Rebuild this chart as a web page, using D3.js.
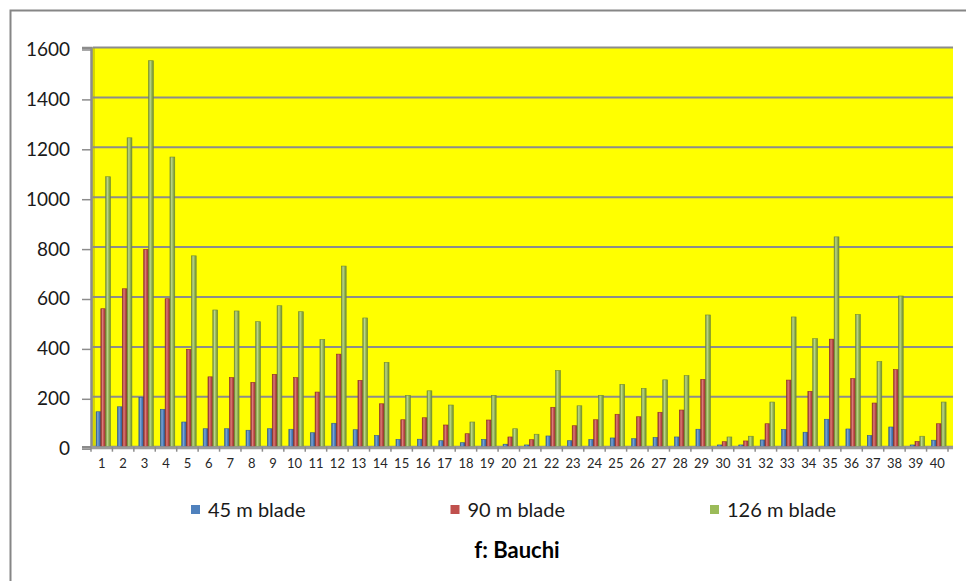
<!DOCTYPE html>
<html>
<head>
<meta charset="utf-8">
<script src="https://cdn.jsdelivr.net/npm/d3@7"></script>
<style>
  html, body { margin: 0; padding: 0; background: #fff; }
  svg { display: block; font-family: Lato, "Open Sans", sans-serif; }
</style>
</head>
<body>
<svg id="chart" width="966" height="581"></svg>
<script>
const categories = ["1","2","3","4","5","6","7","8","9","10","11","12","13","14","15","16","17","18","19","20",
  "21","22","23","24","25","26","27","28","29","30","31","32","33","34","35","36","37","38","39","40"];
const seriesNames = ["45 m blade", "90 m blade", "126 m blade"];
const blade45 = [140,160,198,150,99,72,72,66,72,70,56,94,68,45,29,30,24,16,29,10,
  7,43,24,29,35,32,37,39,70,7,7,27,69,58,110,71,45,79,7,26];
const blade90 = [553,633,791,593,390,280,277,258,290,277,219,371,266,172,108,116,87,52,107,39,
  28,158,84,108,130,120,138,147,270,20,23,92,267,222,431,273,175,309,21,92];
const blade126 = [1082,1238,1547,1161,765,548,544,501,565,541,430,724,516,338,206,224,167,99,206,72,
  50,305,164,206,250,234,268,285,528,39,42,179,520,433,841,530,341,604,42,179];
const yTicks = [0, 200, 400, 600, 800, 1000, 1200, 1400, 1600];
const chartTitle = "f: Bauchi";

const colors = ["#4f81bd", "#c0504d", "#9bbb59"];
const darks = ["#2c5a8f", "#8c2d2a", "#6f8a35"];
const lights = ["#7fa6d6", "#dc7e7b", "#bcd68a"];

const svg = d3.select("#chart");
const PLOT = {left: 91, right: 948, top: 47.5, bottom: 446.7, wallRight: 953};

const x0 = d3.scaleBand().domain(categories).range([PLOT.left, PLOT.right]);
const bw = x0.bandwidth();
const x1 = d3.scaleBand().domain(seriesNames).range([bw * 0.235, bw * 0.91]);
const y = d3.scaleLinear().domain([0, 1600]).range([PLOT.bottom, PLOT.top]);

const rows = categories.map((c, i) => ({cat: c, values: [blade45[i], blade90[i], blade126[i]]}));

// outer chart border (runs off the picture on right and bottom)
svg.append("rect")
  .attr("x", 10.5).attr("y", 10.5)
  .attr("width", 1000).attr("height", 1000)
  .attr("fill", "none")
  .attr("stroke", "#868686")
  .attr("stroke-width", 2);

// gradients for the shaded bars
const defs = svg.append("defs");
colors.forEach((c, i) => {
  const g = defs.append("linearGradient")
    .attr("id", `grad${i}`)
    .attr("x1", "0").attr("x2", "1").attr("y1", "0").attr("y2", "0");
  g.append("stop").attr("offset", "0%").attr("stop-color", darks[i]);
  g.append("stop").attr("offset", "35%").attr("stop-color", lights[i]);
  g.append("stop").attr("offset", "60%").attr("stop-color", c);
  g.append("stop").attr("offset", "100%").attr("stop-color", darks[i]);
});

// back wall
svg.append("rect")
  .attr("x", PLOT.left + 2).attr("y", PLOT.top)
  .attr("width", PLOT.wallRight - PLOT.left - 2)
  .attr("height", PLOT.bottom - PLOT.top)
  .attr("fill", "#ffff00");

// left wall strip
svg.append("rect")
  .attr("x", PLOT.left).attr("y", PLOT.top)
  .attr("width", 4).attr("height", PLOT.bottom - PLOT.top)
  .attr("fill", "#d6d600");

// gridlines
svg.append("g")
  .selectAll("line")
  .data(yTicks)
  .enter()
  .append("line")
  .attr("x1", PLOT.left + 2)
  .attr("x2", PLOT.wallRight)
  .attr("y1", d => y(d))
  .attr("y2", d => y(d))
  .attr("stroke", "#8c8c8c")
  .attr("stroke-width", 2);

// left axis
const yAxis = svg.append("g")
  .attr("transform", `translate(${PLOT.left},0)`)
  .call(d3.axisLeft(y).tickValues(yTicks).tickFormat(d3.format("d")).tickSize(9).tickPadding(12));
yAxis.select(".domain").attr("stroke", "#8c8c8c").attr("stroke-width", 2.5);
yAxis.selectAll(".tick line").attr("stroke", "#8c8c8c").attr("stroke-width", 1.5)
  .attr("transform", "translate(0,2)");
yAxis.selectAll(".tick text")
  .attr("font-size", 19)
  .attr("fill", "#1a1a1a")
  .attr("font-family", "Lato, sans-serif")
  .attr("dy", "0.42em");

// bars
const groups = svg.append("g")
  .selectAll("g")
  .data(rows)
  .enter()
  .append("g")
  .attr("transform", d => `translate(${x0(d.cat)},0)`);

groups.selectAll("rect")
  .data(d => d.values.map((v, i) => ({series: seriesNames[i], value: v, i: i})))
  .enter()
  .append("rect")
  .attr("x", d => x1(d.series))
  .attr("y", d => y(d.value))
  .attr("width", x1.bandwidth())
  .attr("height", d => y(0) - y(d.value))
  .attr("fill", d => `url(#grad${d.i})`)
  .attr("stroke", d => darks[d.i])
  .attr("stroke-width", 0.6);

// floor / bottom axis
const xAxis = svg.append("g")
  .attr("transform", `translate(0,${PLOT.bottom})`)
  .call(d3.axisBottom(x0).tickSize(0).tickPadding(12));
xAxis.select(".domain").remove();
xAxis.selectAll(".tick text")
  .attr("font-size", 13)
  .attr("fill", "#262626")
  .attr("font-family", "Lato, sans-serif");

svg.append("line")
  .attr("x1", PLOT.left).attr("x2", PLOT.wallRight)
  .attr("y1", PLOT.bottom + 1).attr("y2", PLOT.bottom + 1)
  .attr("stroke", "#9a9a9a")
  .attr("stroke-width", 3);

svg.append("g")
  .selectAll("line")
  .data(categories.concat(["end"]))
  .enter()
  .append("line")
  .attr("x1", (d, i) => PLOT.left + i * bw)
  .attr("x2", (d, i) => PLOT.left + i * bw)
  .attr("y1", PLOT.bottom)
  .attr("y2", PLOT.bottom + 5)
  .attr("stroke", "#8c8c8c")
  .attr("stroke-width", 1.5);

// legend
const legendX = d3.scalePoint().domain(seriesNames).range([191, 710]);
const legend = svg.append("g")
  .selectAll("g")
  .data(seriesNames)
  .enter()
  .append("g")
  .attr("transform", d => `translate(${legendX(d)},505)`);

legend.append("rect")
  .attr("width", 9).attr("height", 9)
  .attr("fill", (d, i) => colors[i]);

legend.append("text")
  .attr("x", 17)
  .attr("y", 12)
  .attr("font-size", 20)
  .attr("fill", "#1a1a1a")
  .text(d => d);

// title
svg.append("text")
  .attr("x", 517)
  .attr("y", 558)
  .attr("text-anchor", "middle")
  .attr("font-size", 22)
  .attr("font-weight", "bold")
  .attr("fill", "#000")
  .text(chartTitle);
</script>
</body>
</html>
